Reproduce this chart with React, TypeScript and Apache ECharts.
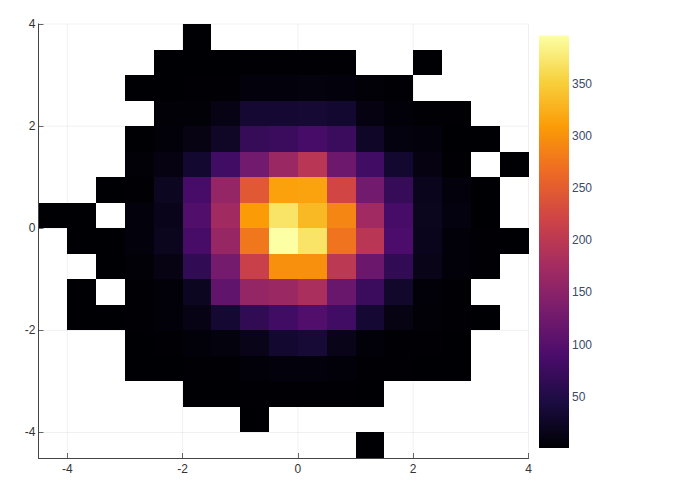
import React, { useEffect, useRef } from "react";
import * as echarts from "echarts";

const binLeftEdges = [-4.5, -4, -3.5, -3, -2.5, -2, -1.5, -1, -0.5, 0, 0.5, 1, 1.5, 2, 2.5, 3, 3.5];
const binWidth = 0.5;
const xTickValues = [-4, -2, 0, 2, 4];
const yTickValues = [-4, -2, 0, 2, 4];
const colorbarTicks = [50, 100, 150, 200, 250, 300, 350];
const axisLow = -4.5;
const axisHigh = 4;
const countMin = 1;
const countMax = 396;
const inferno = ["#000004", "#1b0c41", "#4a0c6b", "#781c6d", "#a52c60", "#cf4446", "#ed6925", "#fb9b06", "#f7d13d", "#fcffa4"];

// one row per y bin, keyed by lower edge; 0 = empty bin
const rowP35 = [0, 0, 0, 0, 0, 1, 0, 0, 0, 0, 0, 0, 0, 0, 0, 0, 0];
const rowP30 = [0, 0, 0, 0, 1, 1, 1, 2, 2, 2, 2, 0, 0, 1, 0, 0, 0];
const rowP25 = [0, 0, 0, 1, 1, 2, 2, 6, 6, 7, 6, 3, 2, 0, 0, 0, 0];
const rowP20 = [0, 0, 0, 0, 3, 3, 13, 35, 35, 36, 32, 10, 5, 2, 2, 0, 0];
const rowP15 = [0, 0, 0, 1, 5, 12, 25, 70, 75, 85, 75, 27, 8, 6, 1, 1, 0];
const rowP10 = [0, 0, 0, 4, 10, 32, 80, 127, 165, 197, 123, 80, 32, 10, 2, 0, 1];
const rowP05 = [0, 0, 1, 2, 22, 85, 160, 245, 313, 315, 223, 127, 70, 18, 6, 1, 0];
const rowP00 = [1, 1, 0, 6, 17, 95, 173, 308, 370, 333, 290, 172, 85, 20, 8, 1, 0];
const rowN05 = [0, 1, 1, 6, 20, 85, 163, 277, 396, 370, 273, 197, 90, 18, 5, 2, 1];
const rowN10 = [0, 0, 1, 4, 12, 65, 130, 214, 298, 298, 200, 120, 65, 15, 5, 2, 0];
const rowN15 = [0, 1, 0, 2, 5, 22, 110, 160, 165, 182, 118, 75, 30, 5, 2, 0, 0];
const rowN20 = [0, 1, 1, 2, 5, 13, 35, 65, 80, 95, 80, 35, 12, 3, 2, 1, 0];
const rowN25 = [0, 0, 0, 1, 2, 5, 7, 15, 32, 38, 15, 5, 2, 2, 1, 0, 0];
const rowN30 = [0, 0, 0, 1, 1, 2, 2, 5, 6, 6, 5, 2, 2, 1, 1, 0, 0];
const rowN35 = [0, 0, 0, 0, 0, 1, 1, 2, 2, 2, 2, 1, 0, 0, 0, 0, 0];
const rowN40 = [0, 0, 0, 0, 0, 0, 0, 1, 0, 0, 0, 0, 0, 0, 0, 0, 0];
const rowN45 = [0, 0, 0, 0, 0, 0, 0, 0, 0, 0, 0, 1, 0, 0, 0, 0, 0];

const rows: [number, number[]][] = [
  [3.5, rowP35], [3, rowP30], [2.5, rowP25], [2, rowP20], [1.5, rowP15], [1, rowP10], [0.5, rowP05], [0, rowP00],
  [-0.5, rowN05], [-1, rowN10], [-1.5, rowN15], [-2, rowN20], [-2.5, rowN25], [-3, rowN30], [-3.5, rowN35], [-4, rowN40], [-4.5, rowN45],
];

export default function App() {
  const ref = useRef<HTMLDivElement>(null);
  useEffect(() => {
    document.body.style.margin = "0";
    const chart = echarts.init(ref.current!, undefined, { renderer: "svg", width: 700, height: 500 });
    const cells: number[][] = [];
    rows.forEach(([y, vals]) =>
      vals.forEach((v, i) => {
        if (v > 0) cells.push([binLeftEdges[i], y, v]);
      })
    );
    // gridline records: [tick value, 0 = vertical / 1 = horizontal]
    const gridRecords: number[][] = [
      ...xTickValues.map((v) => [v, 0]),
      ...yTickValues.map((v) => [v, 1]),
    ];
    const tickFont = { fontFamily: "Liberation Sans, Arial, sans-serif", fontSize: 12 };
    const axisColor = "#444";
    chart.setOption({
      animation: false,
      backgroundColor: "#ffffff",
      grid: [
        { left: 38.5, top: 24, width: 490, height: 434 },
        { left: 539, top: 35.5, width: 30, height: 412.5 },
      ],
      xAxis: [
        {
          gridIndex: 0,
          type: "value",
          min: axisLow,
          max: axisHigh,
          position: "bottom",
          axisLine: { show: true, onZero: false, lineStyle: { color: axisColor, width: 1 } },
          axisTick: { show: true, inside: true, length: 5, customValues: xTickValues, lineStyle: { color: axisColor, width: 0.8 } },
          axisLabel: { ...tickFont, color: "#333", margin: 5, customValues: xTickValues, formatter: (v: number) => String(v) },
          splitLine: { show: false },
        },
        { gridIndex: 1, type: "value", min: 0, max: 1, show: false },
      ],
      yAxis: [
        {
          gridIndex: 0,
          type: "value",
          min: axisLow,
          max: axisHigh,
          position: "left",
          axisLine: { show: true, onZero: false, lineStyle: { color: axisColor, width: 1 } },
          axisTick: { show: true, inside: true, length: 5, customValues: yTickValues, lineStyle: { color: axisColor, width: 0.8 } },
          axisLabel: { ...tickFont, color: "#333", margin: 3, customValues: yTickValues, formatter: (v: number) => String(v) },
          splitLine: { show: false },
        },
        {
          gridIndex: 1,
          type: "value",
          min: countMin,
          max: countMax,
          position: "right",
          axisLine: { show: false },
          axisTick: { show: false },
          splitLine: { show: false },
          axisLabel: { ...tickFont, color: "#3a4a6b", margin: 3, customValues: colorbarTicks, formatter: (v: number) => String(v) },
        },
      ],
      visualMap: {
        show: false,
        type: "continuous",
        seriesIndex: 1,
        dimension: 2,
        min: countMin,
        max: countMax,
        inRange: { color: inferno },
      },
      series: [
        {
          type: "custom",
          xAxisIndex: 0,
          yAxisIndex: 0,
          z: 1,
          silent: true,
          data: gridRecords,
          encode: { x: 0 },
          renderItem: (_p: any, api: any) => {
            const v = api.value(0);
            const vertical = api.value(1) === 0;
            const a = vertical ? api.coord([v, axisLow]) : api.coord([axisLow, v]);
            const b = vertical ? api.coord([v, axisHigh]) : api.coord([axisHigh, v]);
            return {
              type: "line",
              shape: { x1: a[0], y1: a[1], x2: b[0], y2: b[1] },
              style: { stroke: "rgba(0,0,0,0.1)", lineWidth: 0.6 },
            };
          },
        },
        {
          type: "custom",
          xAxisIndex: 0,
          yAxisIndex: 0,
          z: 2,
          data: cells,
          encode: { x: 0, y: 1 },
          clip: false,
          renderItem: (_p: any, api: any) => {
            const x = api.value(0);
            const y = api.value(1);
            const a = api.coord([x, y + binWidth]);
            const b = api.coord([x + binWidth, y]);
            const x0 = Math.round(a[0]);
            const y0 = Math.round(a[1]);
            return {
              type: "rect",
              shape: { x: x0, y: y0, width: Math.round(b[0]) - x0, height: Math.round(b[1]) - y0 },
              style: { fill: api.visual("color") },
            };
          },
        },
        {
          type: "custom",
          xAxisIndex: 1,
          yAxisIndex: 1,
          data: [[0, countMin, 1, countMax]],
          encode: { x: [0, 2], y: [1, 3] },
          renderItem: (_p: any, api: any) => {
            const a = api.coord([api.value(0), api.value(3)]);
            const b = api.coord([api.value(2), api.value(1)]);
            return {
              type: "rect",
              shape: { x: a[0], y: a[1], width: b[0] - a[0], height: b[1] - a[1] },
              style: {
                fill: new echarts.graphic.LinearGradient(
                  0, 1, 0, 0,
                  inferno.map((color, i) => ({ offset: i / (inferno.length - 1), color }))
                ),
              },
            };
          },
        },
      ],
    });
    return () => chart.dispose();
  }, []);
  return <div ref={ref} style={{ width: 700, height: 500 }} />;
}
